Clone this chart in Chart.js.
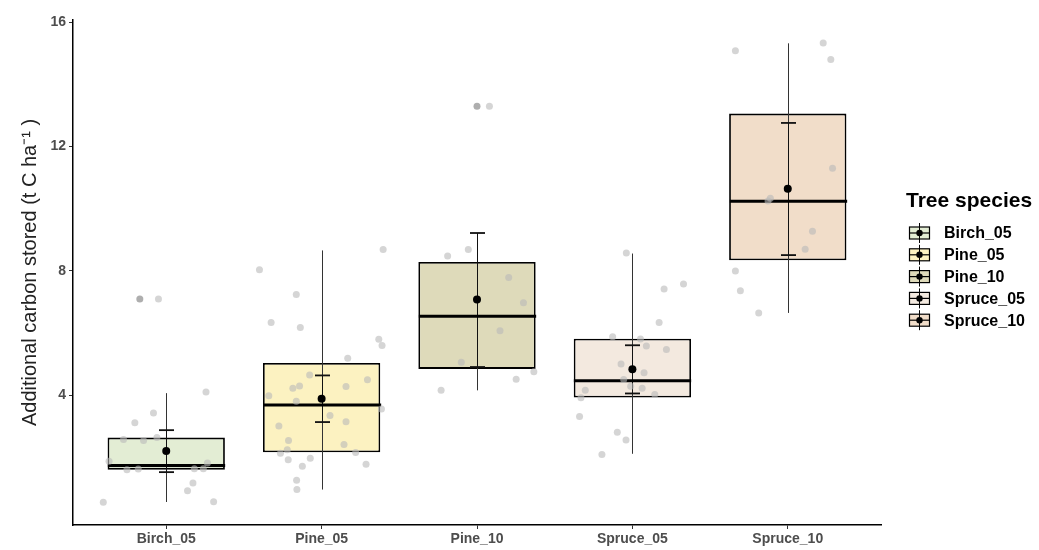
<!DOCTYPE html>
<html>
<head>
<meta charset="utf-8">
<script src="https://cdn.jsdelivr.net/npm/chart.js@4.4.0/dist/chart.umd.min.js"></script>
<style>
  html, body { margin: 0; background: #fff; }
  #wrap { width: 1039px; height: 550px; }
</style>
</head>
<body>
<div id="wrap"><canvas id="boxchart"></canvas></div>
<script>
// groups and summary statistics
const species = ['Birch_05', 'Pine_05', 'Pine_10', 'Spruce_05', 'Spruce_10'];
const boxColors = ['#E3EDD4', '#FCF2C1', '#DEDABA', '#F3E9DF', '#F1DDC9'];
const whiskerLow = [0.57, 0.97, 4.16, 2.12, 6.65];
const whiskerHigh = [4.07, 8.66, 8.69, 8.56, 15.32];
const q1 = [1.61, 2.17, 4.85, 3.93, 8.34];
const median = [1.74, 3.69, 6.54, 4.47, 10.24];
const q3 = [2.64, 5.04, 8.29, 5.82, 13.06];
const meanVal = [2.21, 3.89, 7.08, 4.84, 10.64];
const errLow = [1.53, 3.14, 4.91, 4.06, 8.51];
const errHigh = [2.88, 4.64, 9.22, 5.61, 12.76];
const yTicks = [4, 8, 12, 16];

// jittered raw observations: [horizontal jitter, value]
const pointsBirch05 = [[0.256, 4.11], [-0.082, 3.43], [-0.202, 3.12], [-0.275, 2.58], [-0.146, 2.55],
  [-0.06, 2.64], [-0.368, 1.88], [0.265, 1.82], [-0.253, 1.61], [-0.18, 1.63], [0.181, 1.64],
  [0.239, 1.64], [0.172, 1.18], [0.137, 0.93], [-0.405, 0.56], [0.305, 0.58], [-0.05, 7.1]];
const pointsPine05 = [[0.396, 8.69], [-0.4, 8.04], [-0.163, 7.24], [-0.325, 6.34], [-0.137, 6.18],
  [0.368, 5.8], [0.389, 5.6], [0.168, 5.19], [-0.077, 4.65], [0.295, 4.5], [-0.185, 4.23],
  [-0.142, 4.3], [0.157, 4.28], [-0.34, 3.99], [-0.163, 3.81], [0.385, 3.56], [0.054, 3.35],
  [-0.275, 3.01], [0.157, 3.15], [-0.213, 2.55], [0.144, 2.42], [-0.221, 2.25], [-0.265, 2.14],
  [0.219, 2.16], [-0.215, 1.93], [-0.073, 1.98], [-0.124, 1.72], [0.286, 1.78], [-0.161, 1.27],
  [-0.159, 0.97]];
const pointsPine10 = [[-0.189, 8.48], [-0.056, 8.69], [0.204, 7.79], [0.299, 6.98], [0.148, 6.08],
  [-0.101, 5.06], [0.366, 4.76], [0.252, 4.52], [-0.231, 4.16], [0.08, 13.3]];
const pointsSpruce05 = [[-0.039, 8.58], [0.204, 7.42], [0.329, 7.58], [0.172, 6.34], [-0.127, 5.88],
  [0.052, 5.81], [0.09, 5.59], [0.219, 5.47], [-0.073, 5.01], [0.075, 4.73], [-0.056, 4.51],
  [-0.011, 4.29], [0.063, 4.23], [-0.303, 4.16], [0.144, 4.03], [-0.331, 3.92], [-0.34, 3.32],
  [-0.097, 2.81], [-0.041, 2.56], [-0.196, 2.1]];
const pointsSpruce10 = [[-0.337, 15.08], [0.228, 15.33], [0.277, 14.8], [0.288, 11.3], [-0.112, 10.34],
  [-0.127, 10.25], [0.159, 9.28], [0.112, 8.7], [-0.337, 8.0], [-0.305, 7.36], [-0.187, 6.65]];
const outlierGroup = [0, 2];
const outlierOffset = [-0.17, 0];
const outlierValue = [7.1, 13.3];

const allPoints = [pointsBirch05, pointsPine05, pointsPine10, pointsSpruce05, pointsSpruce10];
const jitterData = [];
allPoints.forEach((list, i) => {
    list.forEach(p => jitterData.push({ x: i + p[0], y: p[1] }));
});

const FONT = '"Liberation Sans", Arial, sans-serif';

const boxExtras = {
    id: 'boxExtras',
    afterDatasetDraw(chart, args) {
        if (args.index !== 0) return;
        const ctx = chart.ctx;
        const x = chart.scales.x, y = chart.scales.y;
        const halfBox = (x.getPixelForValue(0.3775) - x.getPixelForValue(0));
        ctx.save();
        species.forEach((s, i) => {
            const cx = Math.round(x.getPixelForValue(i)) + 0.5;
            // whisker
            ctx.strokeStyle = '#333';
            ctx.lineWidth = 1;
            ctx.beginPath();
            ctx.moveTo(cx, y.getPixelForValue(whiskerLow[i]));
            ctx.lineTo(cx, y.getPixelForValue(whiskerHigh[i]));
            ctx.stroke();
            // error bar
            ctx.strokeStyle = '#111';
            ctx.beginPath();
            ctx.moveTo(cx, y.getPixelForValue(errLow[i]));
            ctx.lineTo(cx, y.getPixelForValue(errHigh[i]));
            ctx.stroke();
            ctx.lineWidth = 1.8;
            [errLow[i], errHigh[i]].forEach(v => {
                const py = y.getPixelForValue(v);
                ctx.beginPath();
                ctx.moveTo(cx - 7.5, py);
                ctx.lineTo(cx + 7.5, py);
                ctx.stroke();
            });
            // median
            ctx.strokeStyle = '#000';
            ctx.lineWidth = 3;
            const my = y.getPixelForValue(median[i]);
            ctx.beginPath();
            ctx.moveTo(cx - halfBox, my);
            ctx.lineTo(cx + halfBox, my);
            ctx.stroke();
        });
        ctx.restore();
    },
    afterDraw(chart) {
        const ctx = chart.ctx;
        ctx.save();
        ctx.fillStyle = '#000';
        ctx.textBaseline = 'middle';
        ctx.textAlign = 'left';
        ctx.font = 'bold 21px ' + FONT;
        ctx.fillText('Tree species', 906, 201);
        ctx.font = 'bold 16px ' + FONT;
        species.forEach((s, i) => {
            const yy = 233 + i * 21.8;
            const kx = 919.5;
            ctx.fillStyle = boxColors[i];
            ctx.fillRect(kx - 10, yy - 6, 20, 12);
            ctx.strokeStyle = '#000';
            ctx.lineWidth = 1.2;
            ctx.strokeRect(kx - 10, yy - 6, 20, 12);
            ctx.beginPath();
            ctx.moveTo(kx - 10, yy);
            ctx.lineTo(kx + 10, yy);
            ctx.stroke();
            ctx.lineWidth = 1;
            ctx.beginPath();
            ctx.moveTo(kx, yy - 10);
            ctx.lineTo(kx, yy + 10);
            ctx.stroke();
            ctx.fillStyle = '#000';
            ctx.beginPath();
            ctx.arc(kx, yy, 3.2, 0, Math.PI * 2);
            ctx.fill();
            ctx.fillText(s, 944, yy + 1);
        });
        ctx.restore();
    }
};

const ctx = document.getElementById('boxchart').getContext('2d');
new Chart(ctx, {
    type: 'bar',
    data: {
        datasets: [{
            type: 'bar',
            label: 'box',
            data: species.map((s, i) => ({ x: i, y: [q1[i], q3[i]] })),
            backgroundColor: boxColors,
            borderColor: '#000',
            borderWidth: 1.8,
            borderSkipped: false,
            barPercentage: 0.755,
            categoryPercentage: 1.0,
            order: 3
        }, {
            type: 'scatter',
            label: 'outliers',
            data: outlierGroup.map((g, k) => ({ x: g + outlierOffset[k], y: outlierValue[k] })),
            backgroundColor: 'rgba(120,120,120,0.6)',
            borderWidth: 0,
            pointRadius: 3.5,
            order: 2
        }, {
            type: 'scatter',
            label: 'observations',
            data: jitterData,
            backgroundColor: 'rgba(185,185,185,0.6)',
            borderWidth: 0,
            pointRadius: 3.5,
            order: 1
        }, {
            type: 'scatter',
            label: 'mean',
            data: species.map((s, i) => ({ x: i, y: meanVal[i] })),
            backgroundColor: '#000',
            borderWidth: 0,
            pointRadius: 4,
            order: 0
        }]
    },
    options: {
        responsive: true,
        maintainAspectRatio: false,
        animation: false,
        layout: { padding: { left: 0, right: 158, top: 20, bottom: 0 } },
        plugins: {
            legend: { display: false },
            tooltip: { enabled: false }
        },
        scales: {
            x: {
                type: 'linear',
                min: -0.6,
                max: 4.6,
                offset: false,
                afterBuildTicks: (scale) => { scale.ticks = species.map((s, i) => ({ value: i })); },
                afterFit: (scale) => { scale.height = 25; },
                grid: { offset: false, drawOnChartArea: false, drawTicks: true, tickLength: 4, color: '#333' },
                border: { color: '#000', width: 1.5 },
                ticks: {
                    padding: 2,
                    color: '#4d4d4d',
                    font: { family: FONT, size: 14, weight: 'bold' },
                    callback: (v) => species[v]
                }
            },
            y: {
                min: -0.17,
                max: 16.07,
                afterBuildTicks: (scale) => { scale.ticks = yTicks.map(v => ({ value: v })); },
                afterFit: (scale) => { scale.width = 73; },
                grid: { drawOnChartArea: false, drawTicks: true, tickLength: 4, color: '#333' },
                border: { color: '#000', width: 1.5 },
                ticks: {
                    padding: 3,
                    color: '#4d4d4d',
                    font: { family: FONT, size: 14, weight: 'bold' },
                    callback: (v) => String(v)
                },
                title: {
                    display: true,
                    text: 'Additional carbon stored (t C ha\u207B\u00B9 )',
                    color: '#222',
                    padding: { top: 18, bottom: 0 },
                    font: { family: FONT, size: 20, weight: 'normal' }
                }
            }
        }
    },
    plugins: [boxExtras]
});
</script>
</body>
</html>
